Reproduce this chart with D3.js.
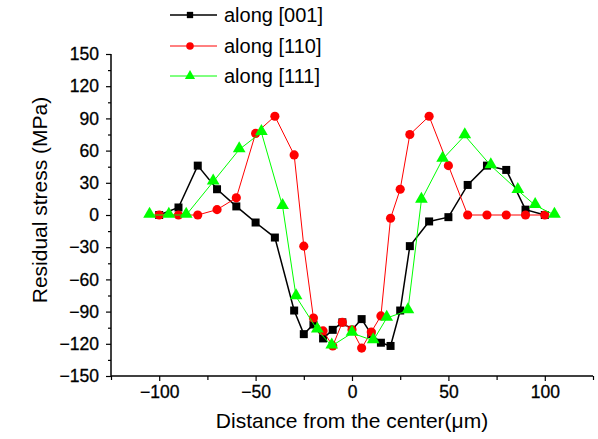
<!DOCTYPE html>
<html>
<head>
<meta charset="utf-8">
<script src="https://cdn.jsdelivr.net/npm/d3@7/dist/d3.min.js"></script>
<style>
  html, body { margin: 0; padding: 0; background: #fff; }
  svg { display: block; font-family: "Liberation Sans", Arial, sans-serif; }
</style>
</head>
<body>
<svg id="chart" width="598" height="439"></svg>
<script>
// ---- data ----
const seriesNames = ["along [001]", "along [110]", "along [111]"];
const xBlack = [-100,-90,-80,-70,-60,-50,-40,-30,-25,-20,-15,-10,-5,0,5,10,15,20,25,30,40,50,60,70,80,90,100];
const yBlack = [0,7,46,24,8,-7,-21,-89,-111,-102,-115,-107,-100,-107,-97,-111,-119,-122,-89,-29,-6,-2,28,46,42,5,0];
const xRed = [-100,-90,-80,-70,-60,-50,-40,-30,-25,-20,-15,-10,-5,0,5,10,15,20,25,30,40,50,60,70,80,90,100];
const yRed = [0,0,0,5,16,76,92,56,-29,-96,-108,-122,-100,-107,-124,-109,-94,-3,24,75,92,46,0,0,0,0,0];
const xGreen = [-105,-95,-86,-72,-58.5,-47,-36,-29,-18,-10.5,0,11,18,29,36,47,58.5,72,86,95,105];
const yGreen = [0,0,0,31,61,77,8,-76,-107,-122,-110,-117,-96,-89,14,52,74,46,23,9,0];
const xTicks = [-100,-50,0,50,100];
const yTicks = [-150,-120,-90,-60,-30,0,30,60,90,120,150];
const xTitle = "Distance from the center(\u03bcm)";
const yTitle = "Residual stress (MPa)";

const svg = d3.select("#chart");
const x = d3.scaleLinear().domain([-125,125]).range([111,593]);
const y = d3.scaleLinear().domain([-150,150]).range([376,54]);

// axes
const xAxis = d3.axisBottom(x).tickValues(xTicks).tickSize(5).tickPadding(5).tickFormat(d3.format("d"));
const xMinor = d3.axisBottom(x).tickValues([-125,-75,-25,25,75,125]).tickSize(4).tickFormat("");
const yAxis = d3.axisLeft(y).tickValues(yTicks).tickSize(5).tickPadding(7).tickFormat(d3.format("d"));
const yMinor = d3.axisLeft(y).tickValues(d3.range(-135,150,30)).tickSize(3).tickFormat("");

function styleAxis(g){
  g.select(".domain").attr("stroke","#000").attr("stroke-width",1.5);
  g.selectAll(".tick line").attr("stroke","#000").attr("stroke-width",1.2);
  g.selectAll("text").attr("fill","#000").attr("font-size",17.5)
    .attr("font-family","Liberation Sans, Arial, sans-serif")
    .attr("stroke","#000").attr("stroke-width",0.3);
}
const gx = svg.append("g").attr("transform","translate(0,376)").call(xAxis); styleAxis(gx);
const gxm = svg.append("g").attr("transform","translate(0,376)").call(xMinor); styleAxis(gxm);
gxm.select(".domain").remove();
const gy = svg.append("g").attr("transform","translate(111,0)").call(yAxis); styleAxis(gy);
const gym = svg.append("g").attr("transform","translate(111,0)").call(yMinor); styleAxis(gym);
gym.select(".domain").remove();
gx.selectAll(".domain").attr("d", "M111,0H593");
gy.selectAll(".domain").attr("d", "M0,376V54");

// titles
svg.append("text").attr("x",352).attr("y",428).attr("text-anchor","middle")
  .attr("font-size",21).attr("fill","#000").text(xTitle);
svg.append("text").attr("transform","translate(47,200) rotate(-90)").attr("text-anchor","middle")
  .attr("font-size",21).attr("fill","#000").text(yTitle);

// series
const series = [
  {xs:xBlack, ys:yBlack, color:"#000000", width:1.5, shape:"square"},
  {xs:xRed, ys:yRed, color:"#ff0000", width:1, shape:"circle"},
  {xs:xGreen, ys:yGreen, color:"#00ff00", width:1, shape:"triangle"}
];
const symbols = {square: d3.symbolSquare, circle: d3.symbolCircle, triangle: d3.symbolTriangle};
const sizes = {square: 64, circle: 66, triangle: 70};
const line = d3.line().x(d=>x(d[0])).y(d=>y(d[1]));

series.forEach(s => {
  const pts = s.xs.map((v,i)=>[v, s.ys[i]]);
  svg.append("path").datum(pts).attr("d", line).attr("fill","none")
    .attr("stroke", s.color).attr("stroke-width", s.width);
  svg.append("g").selectAll("path").data(pts).join("path")
    .attr("transform", d=>`translate(${x(d[0])},${y(d[1]) + (s.shape==="triangle"?-1:0)})`)
    .attr("d", d3.symbol().type(symbols[s.shape]).size(sizes[s.shape]))
    .attr("fill", s.color);
});

// legend
const legY = [15, 46, 76];
series.forEach((s,i) => {
  const g = svg.append("g");
  g.append("line").attr("x1",170).attr("x2",217).attr("y1",legY[i]).attr("y2",legY[i])
    .attr("stroke", s.color).attr("stroke-width", s.width);
  g.append("path").attr("transform",`translate(190,${legY[i]})`)
    .attr("d", d3.symbol().type(symbols[s.shape]).size(s.shape==="square"?40:45)).attr("fill", s.color);
  g.append("text").attr("x",224).attr("y",legY[i]+7).attr("font-size",20).attr("fill","#000").text(seriesNames[i]);
});
</script>
</body>
</html>
